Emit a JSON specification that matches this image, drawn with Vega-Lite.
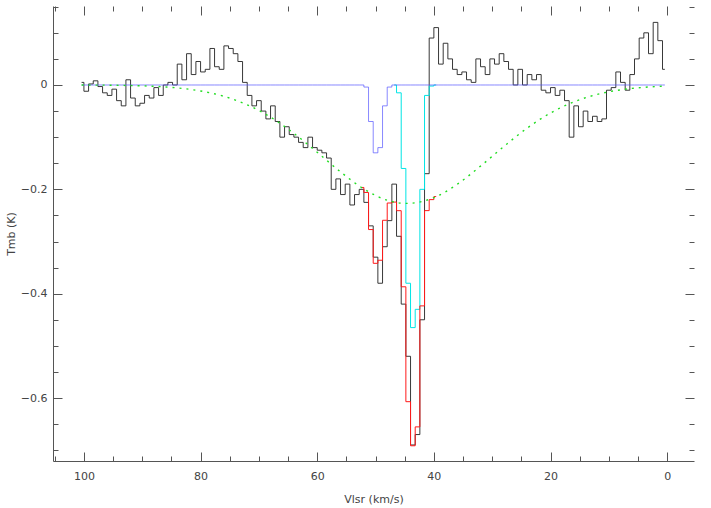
{
  "$schema": "https://vega.github.io/schema/vega-lite/v6.json",
  "width": 641,
  "height": 455,
  "autosize": {"type": "none"},
  "padding": {"left": 53, "top": 6, "right": 17, "bottom": 47},
  "background": "white",
  "config": {
    "view": {"stroke": null},
    "axis": {"labelFont": "DejaVu Sans", "titleFont": "DejaVu Sans", "labelFontSize": 11, "titleFontSize": 11, "titleFontWeight": "normal", "labelColor": "#444", "titleColor": "#444", "domainColor": "#555", "tickColor": "#555", "grid": false, "labelOverlap": false, "labelFlush": false}
  },
  "datasets": {
    "spec": [
      {"v":100.4,"obs":0.005,"b":0,"c":0},{"v":99.6,"obs":-0.012,"b":0,"c":0},{"v":98.8,"obs":0.002,"b":0,"c":0},{"v":98.0,"obs":0.008,"b":0,"c":0},{"v":97.2,"obs":-0.003,"b":0,"c":0},
      {"v":96.4,"obs":-0.015,"b":0,"c":0},{"v":95.6,"obs":-0.02,"b":0,"c":0},{"v":94.8,"obs":-0.008,"b":0,"c":0},{"v":94.0,"obs":-0.03,"b":0,"c":0},{"v":93.2,"obs":-0.04,"b":0,"c":0},
      {"v":92.4,"obs":0.01,"b":0,"c":0},{"v":91.6,"obs":-0.025,"b":0,"c":0},{"v":90.8,"obs":-0.04,"b":0,"c":0},{"v":90.0,"obs":-0.035,"b":0,"c":0},{"v":89.2,"obs":-0.02,"b":0,"c":0},
      {"v":88.4,"obs":-0.025,"b":0,"c":0},{"v":87.6,"obs":-0.005,"b":0,"c":0},{"v":86.8,"obs":-0.02,"b":0,"c":0},{"v":86.0,"obs":0.0,"b":0,"c":0},{"v":85.2,"obs":0.005,"b":0,"c":0},
      {"v":84.4,"obs":0.0,"b":0,"c":0},{"v":83.6,"obs":0.04,"b":0,"c":0},{"v":82.8,"obs":0.01,"b":0,"c":0},{"v":82.0,"obs":0.06,"b":0,"c":0},{"v":81.2,"obs":0.02,"b":0,"c":0},
      {"v":80.4,"obs":0.045,"b":0,"c":0},{"v":79.6,"obs":0.025,"b":0,"c":0},{"v":78.8,"obs":0.03,"b":0,"c":0},{"v":78.0,"obs":0.07,"b":0,"c":0},{"v":77.2,"obs":0.035,"b":0,"c":0},
      {"v":76.4,"obs":0.03,"b":0,"c":0},{"v":75.6,"obs":0.075,"b":0,"c":0},{"v":74.8,"obs":0.07,"b":0,"c":0},{"v":74.0,"obs":0.06,"b":0,"c":0},{"v":73.2,"obs":0.045,"b":0,"c":0},
      {"v":72.4,"obs":0.005,"b":0,"c":0},{"v":71.6,"obs":-0.02,"b":0,"c":0},{"v":70.8,"obs":-0.04,"b":0,"c":0},{"v":70.0,"obs":-0.03,"b":0,"c":0},{"v":69.2,"obs":-0.05,"b":0,"c":0},
      {"v":68.4,"obs":-0.065,"b":0,"c":0},{"v":67.6,"obs":-0.04,"b":0,"c":0},{"v":66.8,"obs":-0.07,"b":0,"c":0},{"v":66.0,"obs":-0.1,"b":0,"c":0},{"v":65.2,"obs":-0.08,"b":0,"c":0},
      {"v":64.4,"obs":-0.095,"b":0,"c":0},{"v":63.6,"obs":-0.1,"b":0,"c":0},{"v":62.8,"obs":-0.11,"b":0,"c":0},{"v":62.0,"obs":-0.12,"b":0,"c":0},{"v":61.2,"obs":-0.1,"b":0,"c":0},
      {"v":60.4,"obs":-0.12,"b":0,"c":0},{"v":59.6,"obs":-0.125,"b":0,"c":0},{"v":58.8,"obs":-0.13,"b":0,"c":0},{"v":58.0,"obs":-0.14,"b":0,"c":0},{"v":57.2,"obs":-0.2,"b":0,"c":0},
      {"v":56.4,"obs":-0.18,"b":0,"c":0},{"v":55.6,"obs":-0.21,"b":0,"c":0},{"v":54.8,"obs":-0.19,"b":0,"c":0},{"v":54.0,"obs":-0.23,"b":0,"c":0},{"v":53.2,"obs":-0.21,"b":0,"c":0},
      {"v":52.4,"obs":-0.2,"b":0,"c":0},{"v":51.6,"obs":-0.225,"b":-0.004,"c":0},{"v":50.8,"obs":-0.27,"b":-0.07,"c":0},{"v":50.0,"obs":-0.33,"b":-0.13,"c":0},{"v":49.2,"obs":-0.38,"b":-0.12,"c":0},
      {"v":48.4,"obs":-0.31,"b":-0.04,"c":0},{"v":47.6,"obs":-0.26,"b":-0.004,"c":0},{"v":46.8,"obs":-0.19,"b":0,"c":0},{"v":46.0,"obs":-0.29,"b":0,"c":-0.015},{"v":45.2,"obs":-0.42,"b":0,"c":-0.16},
      {"v":44.4,"obs":-0.52,"b":0,"c":-0.38},{"v":43.6,"obs":-0.69,"b":0,"c":-0.465},{"v":42.8,"obs":-0.67,"b":0,"c":-0.43},{"v":42.0,"obs":-0.45,"b":0,"c":-0.2},{"v":41.2,"obs":-0.17,"b":0,"c":-0.02},
      {"v":40.4,"obs":0.09,"b":0,"c":-0.002},{"v":39.6,"obs":0.11,"b":0,"c":0},{"v":38.8,"obs":0.04,"b":0,"c":0},{"v":38.0,"obs":0.08,"b":0,"c":0},{"v":37.2,"obs":0.05,"b":0,"c":0},
      {"v":36.4,"obs":0.03,"b":0,"c":0},{"v":35.6,"obs":0.02,"b":0,"c":0},{"v":34.8,"obs":0.025,"b":0,"c":0},{"v":34.0,"obs":0.01,"b":0,"c":0},{"v":33.2,"obs":0.005,"b":0,"c":0},
      {"v":32.4,"obs":0.05,"b":0,"c":0},{"v":31.6,"obs":0.035,"b":0,"c":0},{"v":30.8,"obs":0.02,"b":0,"c":0},{"v":30.0,"obs":0.05,"b":0,"c":0},{"v":29.2,"obs":0.04,"b":0,"c":0},
      {"v":28.4,"obs":0.06,"b":0,"c":0},{"v":27.6,"obs":0.045,"b":0,"c":0},{"v":26.8,"obs":0.03,"b":0,"c":0},{"v":26.0,"obs":0.0,"b":0,"c":0},{"v":25.2,"obs":0.03,"b":0,"c":0},
      {"v":24.4,"obs":0.0,"b":0,"c":0},{"v":23.6,"obs":0.02,"b":0,"c":0},{"v":22.8,"obs":0.01,"b":0,"c":0},{"v":22.0,"obs":0.02,"b":0,"c":0},{"v":21.2,"obs":-0.01,"b":0,"c":0},
      {"v":20.4,"obs":-0.015,"b":0,"c":0},{"v":19.6,"obs":-0.005,"b":0,"c":0},{"v":18.8,"obs":-0.02,"b":0,"c":0},{"v":18.0,"obs":-0.01,"b":0,"c":0},{"v":17.2,"obs":-0.03,"b":0,"c":0},
      {"v":16.4,"obs":-0.1,"b":0,"c":0},{"v":15.6,"obs":-0.04,"b":0,"c":0},{"v":14.8,"obs":-0.08,"b":0,"c":0},{"v":14.0,"obs":-0.05,"b":0,"c":0},{"v":13.2,"obs":-0.07,"b":0,"c":0},
      {"v":12.4,"obs":-0.06,"b":0,"c":0},{"v":11.6,"obs":-0.07,"b":0,"c":0},{"v":10.8,"obs":-0.065,"b":0,"c":0},{"v":10.0,"obs":-0.01,"b":0,"c":0},{"v":9.2,"obs":-0.005,"b":0,"c":0},
      {"v":8.4,"obs":0.025,"b":0,"c":0},{"v":7.6,"obs":0.005,"b":0,"c":0},{"v":6.8,"obs":-0.01,"b":0,"c":0},{"v":6.0,"obs":0.02,"b":0,"c":0},{"v":5.2,"obs":0.05,"b":0,"c":0},
      {"v":4.4,"obs":0.09,"b":0,"c":0},{"v":3.6,"obs":0.1,"b":0,"c":0},{"v":2.8,"obs":0.06,"b":0,"c":0},{"v":2.0,"obs":0.12,"b":0,"c":0},{"v":1.2,"obs":0.085,"b":0,"c":0},
      {"v":0.4,"obs":0.03,"b":0,"c":0}
    ],
    "fit": [
      {"v":52.4,"r":-0.1964},{"v":51.6,"r":-0.206},{"v":50.8,"r":-0.2771},{"v":50.0,"r":-0.3418},{"v":49.2,"r":-0.3359},
      {"v":48.4,"r":-0.2593},{"v":47.6,"r":-0.2262},{"v":46.8,"r":-0.2244},{"v":46.0,"r":-0.2409},{"v":45.2,"r":-0.3868},
      {"v":44.4,"r":-0.607},{"v":43.6,"r":-0.6915},{"v":42.8,"r":-0.6553},{"v":42.0,"r":-0.4234},{"v":41.2,"r":-0.2408},
      {"v":40.4,"r":-0.2197},{"v":39.6,"r":-0.2139}
    ],
    "broad": [
      {"v":100.4,"g":-0.0001},{"v":96,"g":-0.0004},{"v":92,"g":-0.0011},{"v":88,"g":-0.0025},{"v":84,"g":-0.0056},
      {"v":80,"g":-0.0115},{"v":76,"g":-0.0217},{"v":72,"g":-0.038},{"v":68,"g":-0.0616},{"v":64,"g":-0.0927},
      {"v":60,"g":-0.129},{"v":56,"g":-0.1666},{"v":52,"g":-0.1993},{"v":48,"g":-0.2209},{"v":44.6,"g":-0.227},
      {"v":40,"g":-0.2159},{"v":36,"g":-0.1904},{"v":32,"g":-0.1555},{"v":28,"g":-0.1178},{"v":24,"g":-0.0826},
      {"v":20,"g":-0.0537},{"v":16,"g":-0.0324},{"v":12,"g":-0.0181},{"v":8,"g":-0.0093},{"v":4,"g":-0.0045},
      {"v":0.4,"g":-0.0021}
    ]
  },
  "layer": [
    {
      "data": {"name": "spec"},
      "mark": {"type": "line", "interpolate": "step", "color": "#222", "strokeWidth": 0.9},
      "encoding": {
        "x": {"field": "v", "type": "quantitative",
          "scale": {"domain": [-4.6, 105.3], "reverse": true, "nice": false, "zero": false},
          "axis": {"orient": "bottom", "values": [0,5,10,15,20,25,30,35,40,45,50,55,60,65,70,75,80,85,90,95,100,105],
            "format": "d",
            "labelExpr": "datum.value % 20 === 0 ? datum.label : ''",
            "tickSize": {"condition": {"test": "datum.value % 20 === 0", "value": -9}, "value": -5},
            "labelPadding": 18, "title": "Vlsr (km/s)", "titlePadding": 8}},
        "y": {"field": "obs", "type": "quantitative",
          "scale": {"domain": [-0.7207, 0.1514], "nice": false, "zero": false},
          "axis": {"orient": "left", "values": [-0.7,-0.65,-0.6,-0.55,-0.5,-0.45,-0.4,-0.35,-0.3,-0.25,-0.2,-0.15,-0.1,-0.05,0,0.05,0.1,0.15],
            "format": ".1~f",
            "labelExpr": "abs(round(datum.value*20)) % 4 === 0 ? datum.label : ''",
            "tickSize": {"condition": {"test": "abs(round(datum.value*20)) % 4 === 0", "value": -9}, "value": -5},
            "labelPadding": 15, "title": "Tmb (K)", "titlePadding": 4}}
      }
    },
    {
      "data": {"name": "spec"},
      "transform": [{"filter": "datum.v < 47 && datum.v > 39"}],
      "mark": {"type": "line", "interpolate": "step", "color": "#00e5e5", "strokeWidth": 1},
      "encoding": {
        "x": {"field": "v", "type": "quantitative", "axis": null},
        "y": {"field": "c", "type": "quantitative", "axis": null}
      }
    },
    {
      "data": {"name": "spec"},
      "mark": {"type": "line", "interpolate": "step", "color": "#5555ff", "strokeWidth": 0.7},
      "encoding": {
        "x": {"field": "v", "type": "quantitative",
          "axis": {"orient": "top", "values": [0,5,10,15,20,25,30,35,40,45,50,55,60,65,70,75,80,85,90,95,100,105],
            "labels": false, "domain": false, "title": null,
            "tickSize": {"condition": {"test": "datum.value % 20 === 0", "value": -9}, "value": -5}}},
        "y": {"field": "b", "type": "quantitative",
          "axis": {"orient": "right", "values": [-0.7,-0.65,-0.6,-0.55,-0.5,-0.45,-0.4,-0.35,-0.3,-0.25,-0.2,-0.15,-0.1,-0.05,0,0.05,0.1,0.15],
            "labels": false, "domain": false, "title": null,
            "tickSize": {"condition": {"test": "abs(round(datum.value*20)) % 4 === 0", "value": -9}, "value": -5}}}
      }
    },
    {
      "data": {"name": "fit"},
      "mark": {"type": "line", "interpolate": "step", "color": "#ff1a1a", "strokeWidth": 1},
      "encoding": {
        "x": {"field": "v", "type": "quantitative", "axis": null},
        "y": {"field": "r", "type": "quantitative", "axis": null}
      }
    },
    {
      "data": {"name": "broad"},
      "mark": {"type": "line", "interpolate": "monotone", "color": "#22dd22", "strokeWidth": 1.4, "strokeDash": [2, 5]},
      "encoding": {
        "x": {"field": "v", "type": "quantitative", "axis": null},
        "y": {"field": "g", "type": "quantitative", "axis": null}
      }
    }
  ]
}
